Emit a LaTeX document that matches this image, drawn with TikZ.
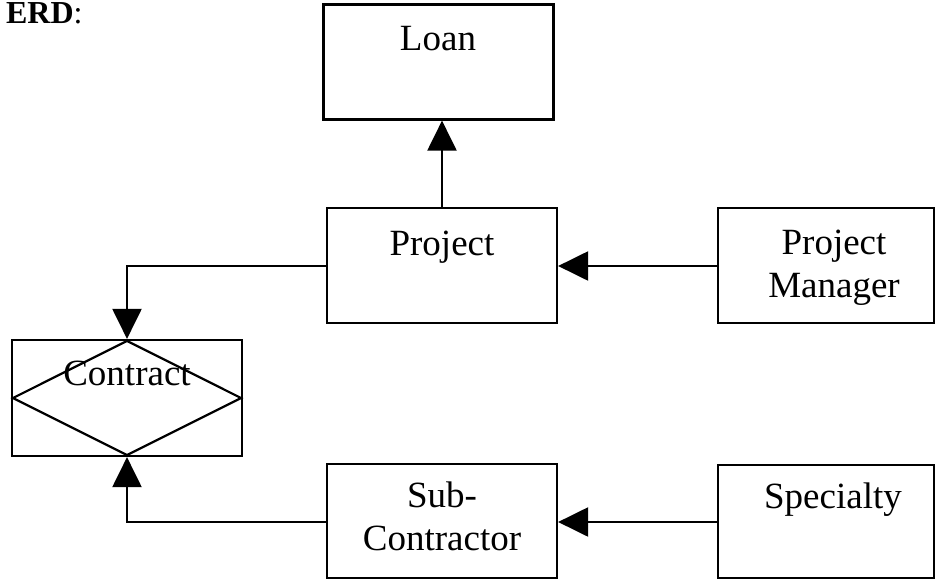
\documentclass[tikz,border=0pt]{standalone}
\usepackage{fontspec}
\setmainfont{Liberation Serif}
\usetikzlibrary{arrows.meta,shapes.geometric}

\tikzset{
  entity/.style={draw, rectangle, inner sep=0pt, minimum width=230pt, minimum height=115pt},
  relbox/.style={draw, rectangle, inner sep=0pt, minimum width=230pt, minimum height=116pt},
  rel/.style={draw, diamond, inner sep=0pt, minimum width=230pt, minimum height=116pt, shape aspect=2},
  etext/.style={anchor=base, inner sep=0pt, align=center, font=\fontsize{37}{43}\selectfont},
  link/.style={-{Triangle[length=30pt,width=29pt]}},
}

\begin{document}
\begin{tikzpicture}[x=1pt, y=1pt, line width=2.2pt]
                \useasboundingbox (0,0) rectangle (936,-581);

                \node[anchor=base west, inner sep=0pt, font=\fontsize{32}{36}\selectfont] (title) at (5,-23) {\textbf{ERD}:};

                \node[entity] (loan) at (438.5,-62) {};
                \node[entity] (project) at (442,-265.5) {};
                \node[entity, minimum width=216pt] (pm) at (826,-265.5) {};
                \node[relbox] (contract) at (127,-398) {};
                \node[rel, minimum width=229pt, minimum height=115pt] (contractd) at (127,-398) {};
                \node[entity, minimum height=114pt] (subc) at (442,-521) {};
                \node[entity, minimum width=216pt, minimum height=113pt] (spec) at (826,-521.5) {};

                \node[etext] (loant) at (438,-50) {Loan};
                \node[etext] (projectt) at (442,-255) {Project};
                \node[etext] (pmt) at (834,-297) {Project\\Manager};
                \node[etext] (contractt) at (127,-385) {Contract};
                \node[etext] (subct) at (442,-550) {Sub-\\Contractor};
                \node[etext] (spect) at (833,-508) {Specialty};

                \draw[link] (project.north) to (project.north |- loan.south);
                \draw[link] (pm.west |- 0,-266) to (project.east |- 0,-266);
                \draw[link] (project.west |- 0,-266) -| (contract.north);
                \draw[link] (spec.west |- 0,-522) to (subc.east |- 0,-522);
                \draw[link] (subc.west |- 0,-522) -| (contract.south);
            \end{tikzpicture}
\end{document}
